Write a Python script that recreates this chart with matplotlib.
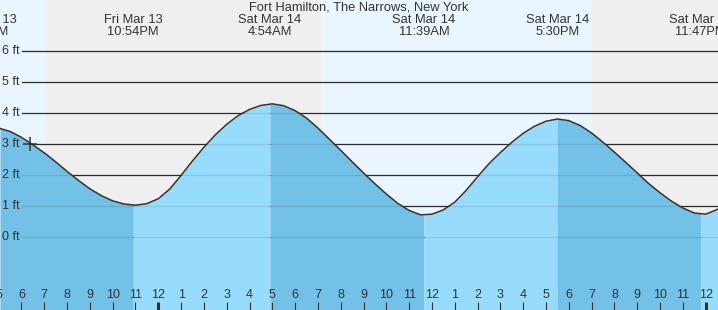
import matplotlib.pyplot as plt
import numpy as np
from matplotlib import transforms

# tide level (ft) read every half hour, hours counted from Fri Mar 13 00:00
hours = np.arange(17.0, 49.01, 0.5)
levels = [
    3.52, 3.41, 3.22, 2.98, 2.72, 2.43, 2.12, 1.83, 1.56, 1.34, 1.17, 1.07,
    1.03, 1.08, 1.24, 1.55, 1.99, 2.46, 2.90, 3.30, 3.64, 3.92, 4.12, 4.25,
    4.30, 4.24, 4.08, 3.84, 3.52, 3.16, 2.80, 2.43, 2.07, 1.72, 1.39, 1.09,
    0.86, 0.72, 0.74, 0.88, 1.13, 1.51, 1.95, 2.37, 2.73, 3.06, 3.35, 3.58,
    3.74, 3.81, 3.76, 3.60, 3.36, 3.06, 2.74, 2.41, 2.07, 1.73, 1.43, 1.16,
    0.94, 0.78, 0.74, 0.89, 1.12,
]

# high / low tide events
event_times = [16.5, 22.9, 28.9, 35.65, 41.5, 47.783]
event_days = ["Fri Mar 13", "Fri Mar 13", "Sat Mar 14", "Sat Mar 14", "Sat Mar 14", "Sat Mar 14"]
event_clock = ["4:30PM", "10:54PM", "4:54AM", "11:39AM", "5:30PM", "11:47PM"]

# sunset / sunrise times
sunset_fri = 19.03
sunrise_sat = 31.13
sunset_sat = 43.02

ft_levels = [0, 1, 2, 3, 4, 5, 6]
now_time, now_level = 18.37, 3.0

x0, x1 = 17.06, 48.54
y0, y1 = -2.35, 7.65
W, H = 718, 310

DAY = "#eaf6ff"
NIGHT = "#efefef"
FALL = "#73c1e6"
RISE = "#97dcfc"
INK = "#333333"

plt.rcParams["font.family"] = ["Liberation Sans", "DejaVu Sans"]

fig = plt.figure(figsize=(W / 100, H / 100), dpi=100)
ax = fig.add_axes([0, 0, 1, 1])
ax.set_xlim(x0, x1)
ax.set_ylim(y0, y1)
ax.axis("off")

# day / night background
ax.axvspan(x0, sunset_fri, color=DAY, lw=0, zorder=0)
ax.axvspan(sunset_fri, sunrise_sat, color=NIGHT, lw=0, zorder=0)
ax.axvspan(sunrise_sat, sunset_sat, color=DAY, lw=0, zorder=0)
ax.axvspan(sunset_sat, x1, color=NIGHT, lw=0, zorder=0)

# grid lines and labels
ytrans = transforms.blended_transform_factory(ax.transAxes, ax.transData)
gx = 22 / W
for lv in ft_levels:
    ax.plot([gx, 1], [lv, lv], color=INK, lw=0.9, transform=ytrans, zorder=1)
    ax.plot([gx, 1], [lv, lv], color="black", alpha=0.1, lw=0.9, transform=ytrans, zorder=3)
    ax.text(20 / W, lv, f"{lv} ft", ha="right", va="center", fontsize=9,
            color=INK, transform=ytrans, zorder=6)

# water, darker while falling and lighter while rising
bounds = [x0] + [t for t in event_times if x0 < t < x1] + [x1]
for i, (a, b) in enumerate(zip(bounds[:-1], bounds[1:])):
    mask = (hours > a) & (hours < b)
    xs = np.concatenate([[a], hours[mask], [b]])
    ys = np.interp(xs, hours, levels)
    ax.fill_between(xs, y0, ys, color=FALL if i % 2 == 0 else RISE, lw=0, zorder=2)

ax.plot(hours, levels, color=INK, lw=1.1, zorder=4, solid_joinstyle="round")
ax.plot(now_time, now_level, marker="+", ms=10, mew=1.1, color=INK, zorder=5)

# hour ticks along the bottom
xtrans = transforms.blended_transform_factory(ax.transData, ax.transAxes)
for h in range(17, 49):
    lw = 2.2 if h % 24 == 0 else 0.8
    ax.plot([h, h], [0, 8 / H], color=INK, lw=lw, transform=xtrans,
            solid_capstyle="butt", zorder=6)
    ax.text(h, 1 - 295 / H, str((h - 1) % 12 + 1), ha="center", va="center",
            fontsize=9, color=INK, transform=xtrans, zorder=6)

# event labels
for t, d, c in zip(event_times, event_days, event_clock):
    ax.text(t, 1 - 20 / H, d, ha="center", va="center", fontsize=9.3,
            color=INK, transform=xtrans, zorder=6)
    ax.text(t, 1 - 32 / H, c, ha="center", va="center", fontsize=9.3,
            color=INK, transform=xtrans, zorder=6)

fig.text(359 / W, 1 - 7.5 / H, "Fort Hamilton, The Narrows, New York",
         ha="center", va="center", fontsize=9.3, color=INK)

fig.savefig("out.png", dpi=100)
